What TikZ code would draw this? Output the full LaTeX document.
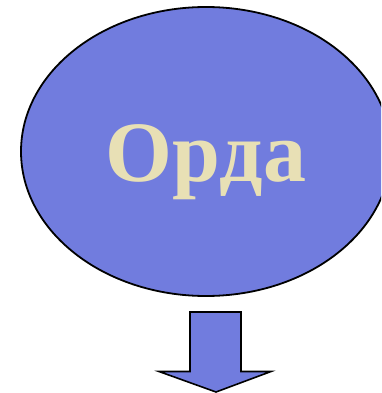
\documentclass[tikz,border=0pt]{standalone}
\usepackage{fontspec}
\setmainfont{Liberation Serif}
\usetikzlibrary{shapes.geometric}
\definecolor{fillblue}{HTML}{717CDE}
\definecolor{beige}{HTML}{E8E0B5}
\begin{document}
\begin{tikzpicture}[x=1pt,y=-1pt,
  blob/.style={ellipse,draw=black,line width=1.8pt,fill=fillblue,minimum width=370pt,minimum height=289pt,inner sep=0pt},
  blockarrow/.style={draw=black,line width=1.6pt,fill=fillblue,line join=miter}]
\clip (0,0) rectangle (381,393);
\node[blob] (orda) at (206,151.5) {};
\node[text=beige,font=\fontsize{86}{90}\selectfont\bfseries] (label) at (206,162) {Орда};
\draw[blockarrow] (190,312) -- (241,312) -- (241,371.5) -- (271,371.5) -- (216,392) -- (159,371.5) -- (190,371.5) -- cycle;
\end{tikzpicture}
\end{document}
